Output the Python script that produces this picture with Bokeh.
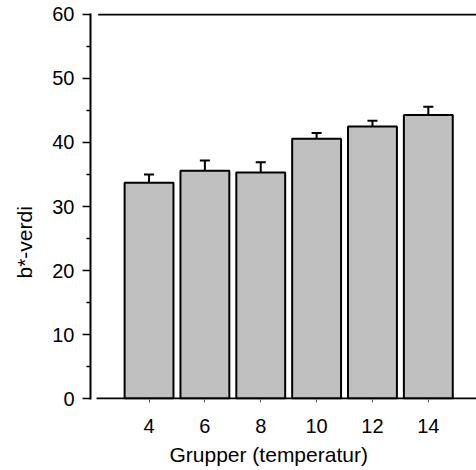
from bokeh.plotting import figure
from bokeh.models import FixedTicker, Range1d, Title
from bokeh.embed import file_html
from bokeh.resources import INLINE

# b*-values per temperature group, with standard errors
groups = [4, 6, 8, 10, 12, 14]
b_values = [33.7, 35.6, 35.3, 40.6, 42.5, 44.3]
b_errors = [1.3, 1.6, 1.6, 0.9, 0.9, 1.3]
y_ticks = [0, 10, 20, 30, 40, 50, 60]
y_minor = [5, 15, 25, 35, 45, 55]

FONT = "Liberation Sans"

p = figure(width=476, height=470, output_backend="svg", toolbar_location=None,
           x_range=Range1d(1.904, 15.725), y_range=Range1d(-0.15, 60.15),
           min_border_left=89, min_border_right=0, min_border_top=13,
           min_border_bottom=71)
p.outline_line_color = None
p.xgrid.visible = False
p.ygrid.visible = False
p.background_fill_color = "white"
p.border_fill_color = "white"

# error bar stems and caps (upper side only)
tops = [v + e for v, e in zip(b_values, b_errors)]
p.segment(x0=groups, y0=b_values, x1=groups, y1=tops, line_color="black", line_width=2)
p.segment(x0=[g - 0.18 for g in groups], y0=tops, x1=[g + 0.18 for g in groups], y1=tops,
          line_color="black", line_width=2)

# bars
p.vbar(x=groups, top=b_values, bottom=0, width=1.75, fill_color="#c0c0c0",
       line_color="black", line_width=2)

# baseline and top frame line, starting just right of the y axis
p.segment(x0=[2.12, 2.18], y0=[0, 60], x1=[15.725, 15.725], y1=[0, 60],
          line_color="black", line_width=2)

# y axis
ya = p.yaxis[0]
ya.ticker = FixedTicker(ticks=y_ticks, minor_ticks=y_minor)
ya.axis_line_width = 2
ya.major_tick_out = 8
ya.major_tick_in = 0
ya.minor_tick_out = 4
ya.minor_tick_in = 0
ya.major_tick_line_width = 1.5
ya.minor_tick_line_width = 1.5
ya.major_label_text_font = FONT
ya.major_label_text_font_size = "20px"
ya.major_label_text_color = "black"
ya.major_label_standoff = 8

# x axis
xa = p.xaxis[0]
xa.ticker = FixedTicker(ticks=groups, minor_ticks=[])
xa.axis_line_color = None
xa.major_tick_out = 3
xa.major_tick_in = 0
xa.major_tick_line_color = "#555555"
xa.major_tick_line_width = 1
xa.major_label_text_font = FONT
xa.major_label_text_font_size = "20px"
xa.major_label_text_color = "black"
xa.major_label_standoff = 16

# axis titles, positioned along their axes with align="left" + offset
p.add_layout(Title(text="Grupper (temperatur)", align="left", offset=79, standoff=10,
                   text_font=FONT, text_font_size="21px", text_font_style="normal",
                   text_color="black"), "below")
p.add_layout(Title(text="b*-verdi", align="left", offset=121, standoff=24,
                   vertical_align="top",
                   text_font=FONT, text_font_size="21px", text_font_style="normal",
                   text_color="black"), "left")

open("out.html", "w").write(file_html(p, INLINE))
